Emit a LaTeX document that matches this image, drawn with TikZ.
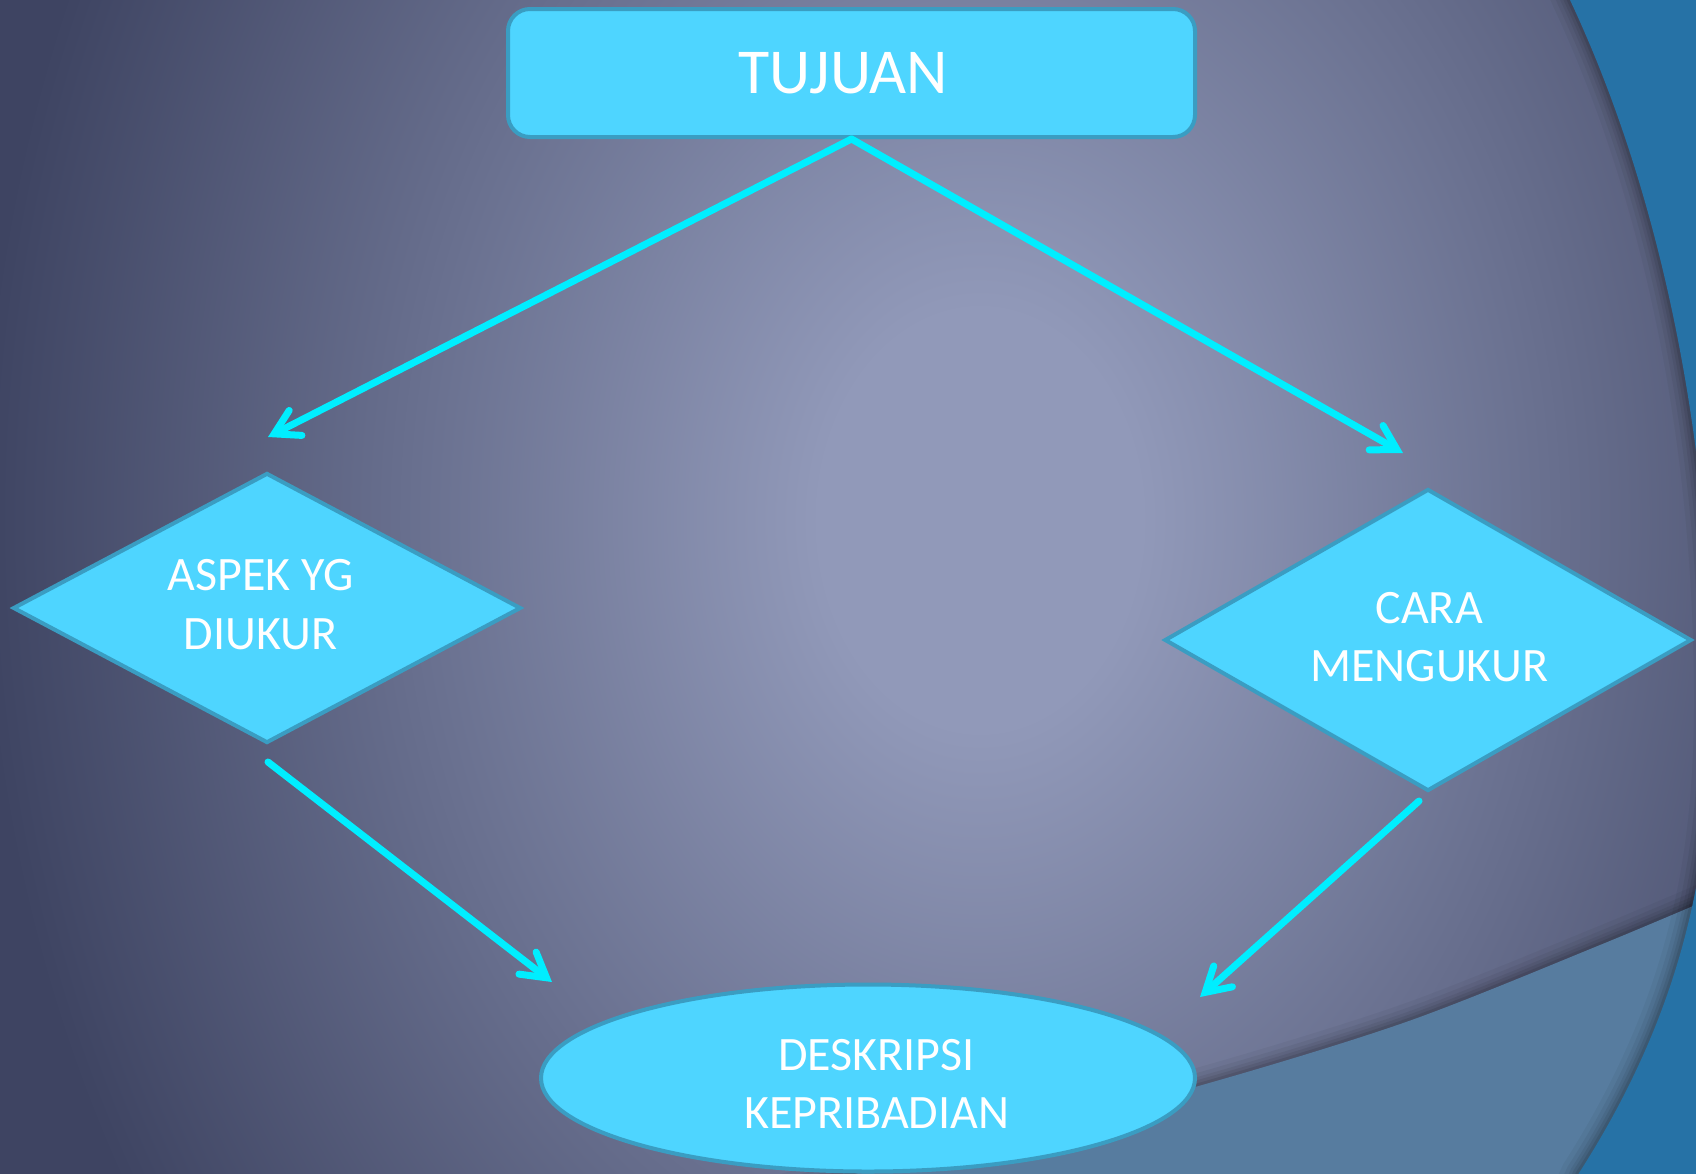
\documentclass[tikz,border=0pt]{standalone}
\usepackage{fontspec}
\setmainfont{Carlito}
\usetikzlibrary{shapes.geometric,arrows.meta,calc}

\definecolor{bgin}{HTML}{9199B9}
\definecolor{bgout}{HTML}{3E4462}
\definecolor{rightblue}{HTML}{2672A6}
\definecolor{bandblue}{HTML}{577C9F}
\definecolor{shapefill}{HTML}{4ED5FF}
\definecolor{shapeline}{HTML}{3A9DC2}
\definecolor{arrowcyan}{HTML}{00EEFF}

\pgfdeclareradialshading{bgrad}{\pgfpoint{0bp}{0bp}}{%
  color(0bp)=(bgin); color(4bp)=(bgin); color(25bp)=(bgout); color(50bp)=(bgout)}

% shift a centred block of lines by (#1 right, #2 up) without changing its box
\newcommand\txtshift[3]{\raisebox{#2}[\height][\depth]{\kern#1\begin{tabular}{@{}c@{}}#3\end{tabular}\kern-#1}}

\begin{document}
\begin{tikzpicture}[x=0.5pt,y=-0.5pt,
  shapebox/.style={draw=shapeline, line width=2pt, fill=shapefill, text=white,
    font=\fontsize{24}{29.2}\selectfont, inner sep=0pt},
  flowarrow/.style={draw=arrowcyan, line width=3.5pt, line cap=round,
    -{Straight Barb[length=12pt,width=14pt,line cap=round]}},
  ]
\useasboundingbox (0,0) rectangle (1696,1173);
\begin{scope}
  \clip (0,0) rectangle (1696,1173);
  \shade[shading=bgrad] (-20,-780) rectangle (1980,1820);
  % shadow above the band curve
  \foreach \w/\o in {18pt/0.04,13pt/0.05,9pt/0.06,6pt/0.07,3pt/0.09} {
    \draw[line width=\w, black, opacity=\o] plot[smooth] coordinates
      {(1740,886) (1600,945) (1406,1022) (1195,1087) (950,1150) (750,1200)};
  }
  \fill[bandblue] plot[smooth] coordinates
      {(1740,886) (1600,945) (1406,1022) (1195,1087) (950,1150) (750,1200)}
      -- (1760,1200) -- cycle;
  % shadow inside the big circle
  \foreach \w/\o in {18pt/0.04,13pt/0.05,9pt/0.06,6pt/0.07,3pt/0.09} {
    \draw[line width=\w, black, opacity=\o]
      (1564,-14) -- (1570,0) .. controls (1664,200) and (1712,450) .. (1712,700)
      .. controls (1712,850) and (1690,1000) .. (1579,1173) -- (1573,1186);
  }
  \fill[rightblue]
      (1564,-14) -- (1570,0) .. controls (1664,200) and (1712,450) .. (1712,700)
      .. controls (1712,850) and (1690,1000) .. (1579,1173) -- (1573,1186)
      -- (1800,1186) -- (1800,-14) -- cycle;
\end{scope}

\node[shapebox, rounded corners=11pt, minimum width=343.5pt, minimum height=64pt,
  font=\fontsize{32}{38}\selectfont] (tujuan) at (851.5,73) {\txtshift{-4pt}{-2.8pt}{TUJUAN}};
\node[shapebox, diamond, aspect=1.9, minimum width=254pt, minimum height=135pt]
  (aspek) at (267,608) {\txtshift{-3.2pt}{-0.2pt}{ASPEK YG\\DIUKUR}};
\node[shapebox, diamond, aspect=1.75, minimum width=263.5pt, minimum height=151pt]
  (cara) at (1428,640) {\txtshift{0.6pt}{-0.3pt}{CARA\\MENGUKUR}};
\node[shapebox, ellipse, minimum width=327pt, minimum height=93.5pt]
  (desk) at (868,1078) {\txtshift{4.3pt}{-4.9pt}{DESKRIPSI\\KEPRIBADIAN}};

\draw[flowarrow] (tujuan.south) -- ($(aspek.north)+(1,-34)$);
\draw[flowarrow] (tujuan.south) -- ($(cara.north)+(-25,-34)$);
\draw[flowarrow] ($(aspek.south)+(1,17)$) -- ($(desk.west)+(13,-96)$);
\draw[flowarrow] ($(cara.south)+(-9,8)$) -- ($(desk.east)+(3,-81)$);
\end{tikzpicture}
\end{document}
